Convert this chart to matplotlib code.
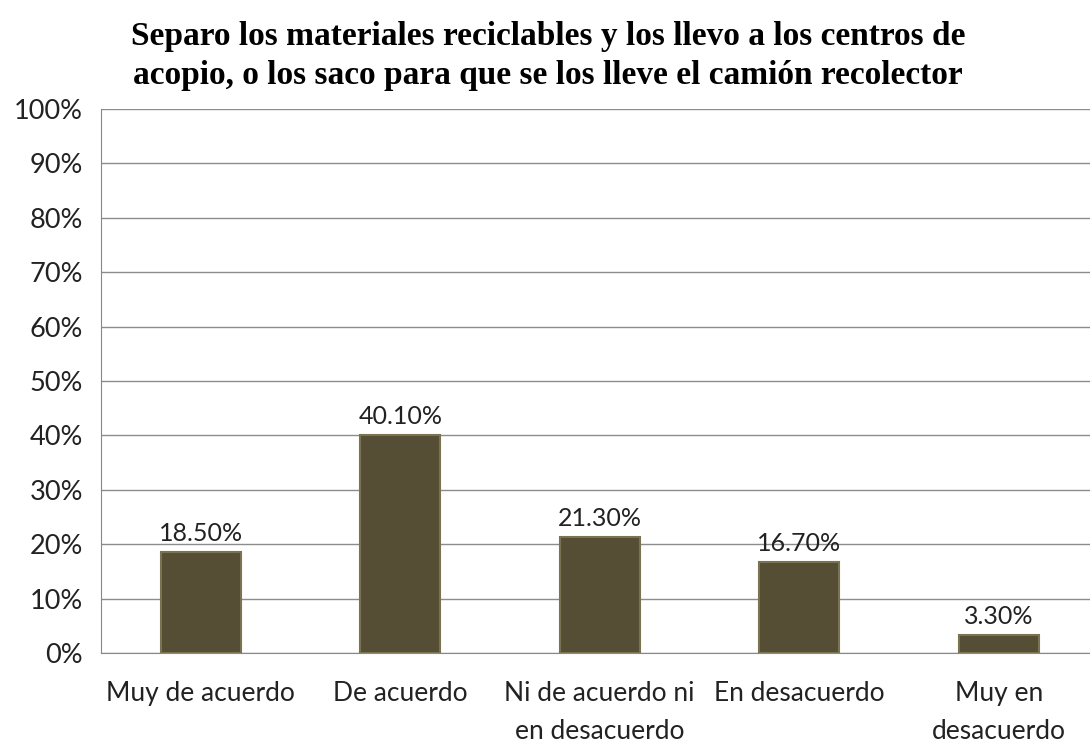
import matplotlib
matplotlib.use("Agg")
import matplotlib.pyplot as plt
import numpy as np

categories = ["Muy de acuerdo", "De acuerdo", "Ni de acuerdo ni\nen desacuerdo", "En desacuerdo", "Muy en\ndesacuerdo"]
values = [18.5, 40.1, 21.3, 16.7, 3.3]
yticks = [0, 10, 20, 30, 40, 50, 60, 70, 80, 90, 100]
title = "Separo los materiales reciclables y los llevo a los centros de\nacopio, o los saco para que se los lleve el camión recolector"

fig = plt.figure(figsize=(10.9, 7.46), dpi=100)
ax = fig.add_axes([0.0927, 0.1247, 0.915, 0.7293])
x = np.arange(len(categories))
ax.bar(x, values, width=0.40, color="#554e35", edgecolor="#7a7352", linewidth=1.5, zorder=3)
for xi, v in zip(x, values):
    ax.text(xi, v + 1.3, f"{v:.2f}%", ha="center", va="bottom", fontsize=18, family="Lato", color="#222222")
ax.set_xlim(-0.5, len(categories) - 0.5)
ax.set_ylim(0, 100)
ax.set_yticks(yticks)
ax.set_yticklabels([f"{t}%" for t in yticks], fontsize=19.5, family="Lato", color="#222222")
ax.set_xticks(x)
ax.set_xticklabels(categories, fontsize=19, family="Lato", color="#222222", linespacing=1.65)
ax.tick_params(axis="x", length=0, pad=20)
ax.tick_params(axis="y", length=0, pad=13)
ax.yaxis.grid(True, color="#8c8c8c", linewidth=1, zorder=0)
for s in ["top", "right"]:
    ax.spines[s].set_visible(False)
ax.spines["left"].set_color("#888888")
ax.spines["bottom"].set_color("#888888")
fig.text(0.503, 0.972, title, ha="center", va="top", fontsize=24, fontweight="bold",
         family="Liberation Serif", linespacing=1.35)
fig.savefig("out.png", dpi=100)
